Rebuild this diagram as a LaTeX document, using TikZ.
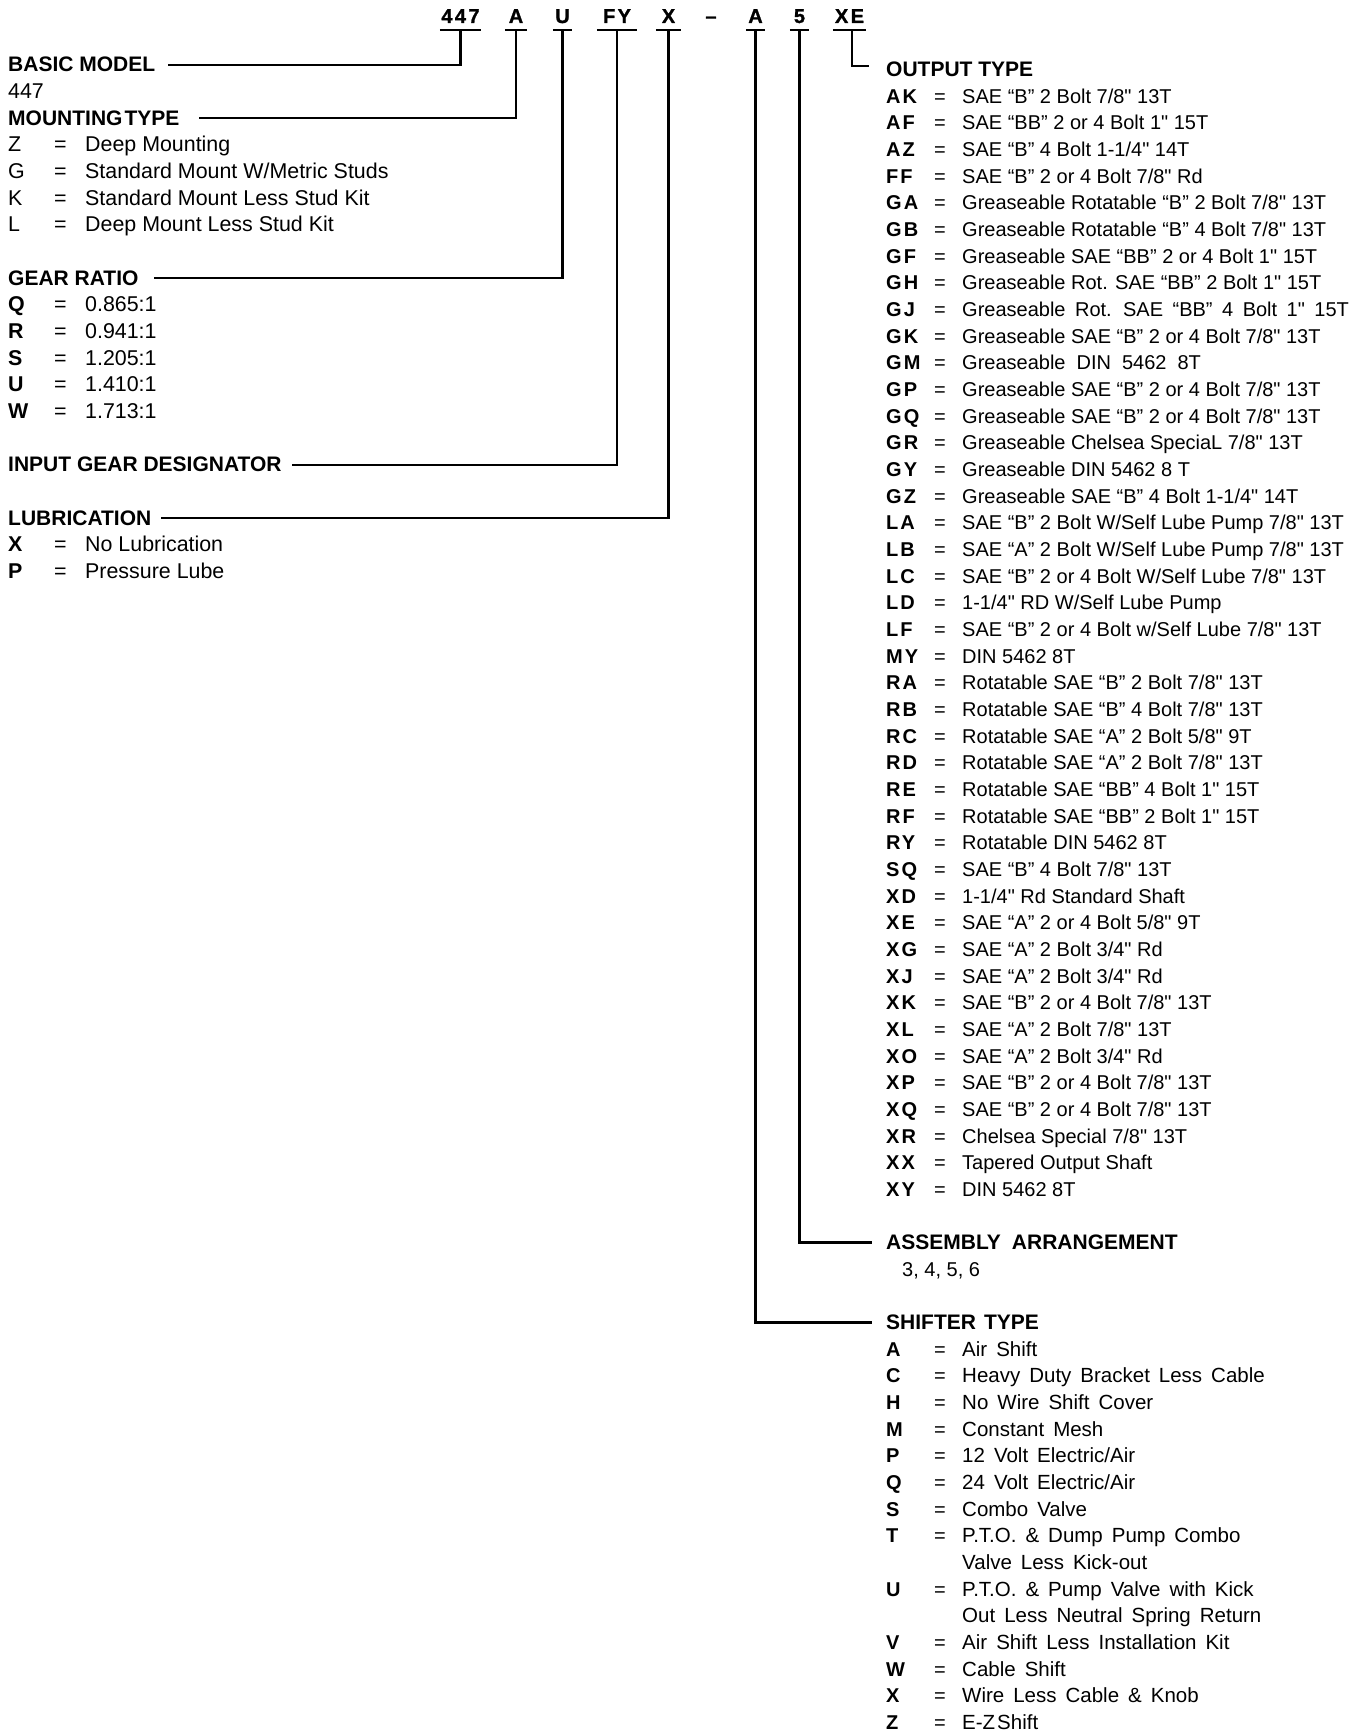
\documentclass[tikz,border=0pt]{standalone}
\usepackage{fontspec}
\setmainfont{Liberation Sans}
\newfontfamily\codefont[LetterSpace=12,FakeBold=1.2]{Liberation Sans}
\newfontfamily\keyfont[LetterSpace=10]{Liberation Sans}
% raw font without TeX mapping, for the straight inch mark
\font\inchf="Liberation Sans" at 20pt
\newcommand\inch{{\inchf"}}
\newcommand\widesp[1]{\spaceskip=#1\relax}
\newcommand\shiftsp{\widesp{9pt}}
\tikzset{
  every node/.style={inner sep=0pt, anchor=base west},
  head/.style={font=\fontsize{21}{21}\selectfont\bfseries},
  lt/.style={font=\fontsize{21.4}{21.4}\selectfont},
  lkb/.style={font=\fontsize{21.4}{21.4}\selectfont\bfseries},
  rt/.style={font=\fontsize{20}{20}\selectfont},
  st/.style={font=\fontsize{20.5}{20.5}\selectfont\shiftsp},
  rkey/.style={font=\fontsize{20}{20}\selectfont\keyfont\bfseries},
  code/.style={font=\fontsize{20}{20}\selectfont\codefont\bfseries, anchor=base, inner xsep=0pt, inner ysep=7pt},
  conn/.style={line width=2.2pt},
}
% left row: name, index, key style, key, text
\newcommand\lrow[5]{%
  \node[#3] (lk#1) at (8,{-(72+#2*26.66)}) {#4};
  \node[lt] (le#1) at (54,{-(72+#2*26.66)}) {=};
  \node[lt] (lt#1) at (85,{-(72+#2*26.66)}) {#5};}
% right row: name, index, key, text
\newcommand\rrow[4]{%
  \node[rkey] (rk#1) at (886,{-(103.3+#2*26.66)}) {#3};
  \node[rt] (re#1) at (934,{-(103.3+#2*26.66)}) {=};
  \node[rt] (rt#1) at (962,{-(103.3+#2*26.66)}) {#4};}
% shifter row: name, index, key, text
\newcommand\srow[4]{%
  \node[rkey] (sk#1) at (886,{-(103.3+#2*26.66)}) {#3};
  \node[rt] (se#1) at (934,{-(103.3+#2*26.66)}) {=};
  \node[st] (st#1) at (962,{-(103.3+#2*26.66)}) {#4};}
\newcommand\scont[3]{%
  \node[st] (sc#1) at (962,{-(103.3+#2*26.66)}) {#3};}
\begin{document}
\begin{tikzpicture}[x=1pt,y=1pt]
\useasboundingbox (0,0) rectangle (1363,-1731);

% ---- model code ----
\node[code, minimum width=41pt] (c447) at (460.5,-23) {447};
\node[code, minimum width=22pt] (cA)   at (516,-23) {A};
\node[code, minimum width=19pt] (cU)   at (562.5,-23) {U};
\node[code, minimum width=40pt] (cFY)  at (617,-23) {FY};
\node[code, minimum width=25pt] (cX)   at (668.5,-23) {X};
\node[code] (cDash) at (711,-23) {–};
\node[code, minimum width=19pt] (cA2)  at (755.5,-23) {A};
\node[code, minimum width=19pt] (c5)   at (799.5,-23) {5};
\node[code, minimum width=33pt] (cXE)  at (849.5,-23) {XE};
\foreach \n in {c447,cA,cU,cFY,cX,cA2,c5,cXE}
  \draw[conn] (\n.south west) -- (\n.south east);

% ---- left column ----
\node[head] (hBasic) at (8,-72) {BASIC MODEL};
\node[lt] (t447) at (8,{-(72+1*26.66)}) {447};
\node[head] (hMount) at (8,{-(72+2*26.66)}) {MOUNTING\hspace{2pt}TYPE};
\lrow{Z}{3}{lt}{Z}{Deep Mounting}
\lrow{G}{4}{lt}{G}{Standard Mount W/Metric Studs}
\lrow{K}{5}{lt}{K}{Standard Mount Less Stud Kit}
\lrow{L}{6}{lt}{L}{Deep Mount Less Stud Kit}
\node[head] (hGear) at (8,{-(72+8*26.66)}) {GEAR RATIO};
\lrow{Q}{9}{lkb}{Q}{0.865:1}
\lrow{R}{10}{lkb}{R}{0.941:1}
\lrow{S}{11}{lkb}{S}{1.205:1}
\lrow{U}{12}{lkb}{U}{1.410:1}
\lrow{W}{13}{lkb}{W}{1.713:1}
\node[head] (hInput) at (8,{-(72+15*26.66)}) {INPUT GEAR DESIGNATOR};
\node[head] (hLub) at (8,{-(72+17*26.66)}) {LUBRICATION};
\lrow{X}{18}{lkb}{X}{No Lubrication}
\lrow{P}{19}{lkb}{P}{Pressure Lube}

% ---- right column ----
\node[head] (hOut) at (886,{-(103.3-26.66)}) {OUTPUT TYPE};
\rrow{AK}{0}{AK}{SAE “B” 2 Bolt 7/8\inch{} 13T}
\rrow{AF}{1}{AF}{SAE “BB” 2 or 4 Bolt 1\inch{} 15T}
\rrow{AZ}{2}{AZ}{SAE “B” 4 Bolt 1-1/4\inch{} 14T}
\rrow{FF}{3}{FF}{SAE “B” 2 or 4 Bolt 7/8\inch{} Rd}
\rrow{GA}{4}{GA}{Greaseable Rotatable “B” 2 Bolt 7/8\inch{} 13T}
\rrow{GB}{5}{GB}{Greaseable Rotatable “B” 4 Bolt 7/8\inch{} 13T}
\rrow{GF}{6}{GF}{Greaseable SAE “BB” 2 or 4 Bolt 1\inch{} 15T}
\rrow{GH}{7}{GH}{Greaseable Rot. SAE “BB” 2 Bolt 1\inch{} 15T}
\rrow{GJ}{8}{GJ}{{\widesp{9.5pt}Greaseable Rot. SAE “BB” 4 Bolt 1\inch{} 15T}}
\rrow{GK}{9}{GK}{Greaseable SAE “B” 2 or 4 Bolt 7/8\inch{} 13T}
\rrow{GM}{10}{GM}{{\widesp{11pt}Greaseable DIN 5462 8T}}
\rrow{GP}{11}{GP}{Greaseable SAE “B” 2 or 4 Bolt 7/8\inch{} 13T}
\rrow{GQ}{12}{GQ}{Greaseable SAE “B” 2 or 4 Bolt 7/8\inch{} 13T}
\rrow{GR}{13}{GR}{Greaseable Chelsea SpeciaL 7/8\inch{} 13T}
\rrow{GY}{14}{GY}{Greaseable DIN 5462 8 T}
\rrow{GZ}{15}{GZ}{Greaseable SAE “B” 4 Bolt 1-1/4\inch{} 14T}
\rrow{LA}{16}{LA}{SAE “B” 2 Bolt W/Self Lube Pump 7/8\inch{} 13T}
\rrow{LB}{17}{LB}{SAE “A” 2 Bolt W/Self Lube Pump 7/8\inch{} 13T}
\rrow{LC}{18}{LC}{SAE “B” 2 or 4 Bolt W/Self Lube 7/8\inch{} 13T}
\rrow{LD}{19}{LD}{1-1/4\inch{} RD W/Self Lube Pump}
\rrow{LF}{20}{LF}{SAE “B” 2 or 4 Bolt w/Self Lube 7/8\inch{} 13T}
\rrow{MY}{21}{MY}{DIN 5462 8T}
\rrow{RA}{22}{RA}{Rotatable SAE “B” 2 Bolt 7/8\inch{} 13T}
\rrow{RB}{23}{RB}{Rotatable SAE “B” 4 Bolt 7/8\inch{} 13T}
\rrow{RC}{24}{RC}{Rotatable SAE “A” 2 Bolt 5/8\inch{} 9T}
\rrow{RD}{25}{RD}{Rotatable SAE “A” 2 Bolt 7/8\inch{} 13T}
\rrow{RE}{26}{RE}{Rotatable SAE “BB” 4 Bolt 1\inch{} 15T}
\rrow{RF}{27}{RF}{Rotatable SAE “BB” 2 Bolt 1\inch{} 15T}
\rrow{RY}{28}{RY}{Rotatable DIN 5462 8T}
\rrow{SQ}{29}{SQ}{SAE “B” 4 Bolt 7/8\inch{} 13T}
\rrow{XD}{30}{XD}{1-1/4\inch{} Rd Standard Shaft}
\rrow{XE}{31}{XE}{SAE “A” 2 or 4 Bolt 5/8\inch{} 9T}
\rrow{XG}{32}{XG}{SAE “A” 2 Bolt 3/4\inch{} Rd}
\rrow{XJ}{33}{XJ}{SAE “A” 2 Bolt 3/4\inch{} Rd}
\rrow{XK}{34}{XK}{SAE “B” 2 or 4 Bolt 7/8\inch{} 13T}
\rrow{XL}{35}{XL}{SAE “A” 2 Bolt 7/8\inch{} 13T}
\rrow{XO}{36}{XO}{SAE “A” 2 Bolt 3/4\inch{} Rd}
\rrow{XP}{37}{XP}{SAE “B” 2 or 4 Bolt 7/8\inch{} 13T}
\rrow{XQ}{38}{XQ}{SAE “B” 2 or 4 Bolt 7/8\inch{} 13T}
\rrow{XR}{39}{XR}{Chelsea Special 7/8\inch{} 13T}
\rrow{XX}{40}{XX}{Tapered Output Shaft}
\rrow{XY}{41}{XY}{DIN 5462 8T}

\node[head] (hAsm) at (886,{-(103.3+43*26.66)}) {ASSEMBLY\hspace{11pt}ARRANGEMENT};
\node[rt] (tAsm) at (902,{-(103.3+44*26.66)}) {3, 4, 5, 6};

\node[head] (hShift) at (886,{-(103.3+46*26.66)}) {SHIFTER\hspace{8pt}TYPE};
\srow{A}{47}{A}{Air Shift}
\srow{C}{48}{C}{Heavy Duty Bracket Less Cable}
\srow{H}{49}{H}{No Wire Shift Cover}
\srow{M}{50}{M}{Constant Mesh}
\srow{P}{51}{P}{12 Volt Electric/Air}
\srow{Q}{52}{Q}{24 Volt Electric/Air}
\srow{S}{53}{S}{Combo Valve}
\srow{T}{54}{T}{P.T.O. \& Dump Pump Combo}
\scont{T}{55}{Valve Less Kick-out}
\srow{U}{56}{U}{P.T.O. \& Pump Valve with Kick}
\scont{U}{57}{Out Less Neutral Spring Return}
\srow{V}{58}{V}{Air Shift Less Installation Kit}
\srow{W}{59}{W}{Cable Shift}
\srow{X}{60}{X}{Wire Less Cable \& Knob}
\srow{Z}{61}{Z}{E-Z\hspace{2pt}Shift}

% ---- connectors ----
\draw[conn] (c447.south) |- ([xshift=13pt]hBasic.east);
\draw[conn] (cA.south) |- ([xshift=19pt]hMount.east);
\draw[conn] (cU.south) |- ([xshift=15pt]hGear.east);
\draw[conn] (cFY.south) |- ([xshift=10pt]hInput.east);
\draw[conn] (cX.south) |- ([xshift=10pt]hLub.east);
\draw[conn] (cA2.south) |- ([xshift=-14pt]hShift.west);
\draw[conn] (c5.south) |- ([xshift=-14pt]hAsm.west);
\draw[conn] ([xshift=2.5pt]cXE.south) |- ([xshift=-17pt,yshift=3.5pt]hOut.west);
\end{tikzpicture}
\end{document}
